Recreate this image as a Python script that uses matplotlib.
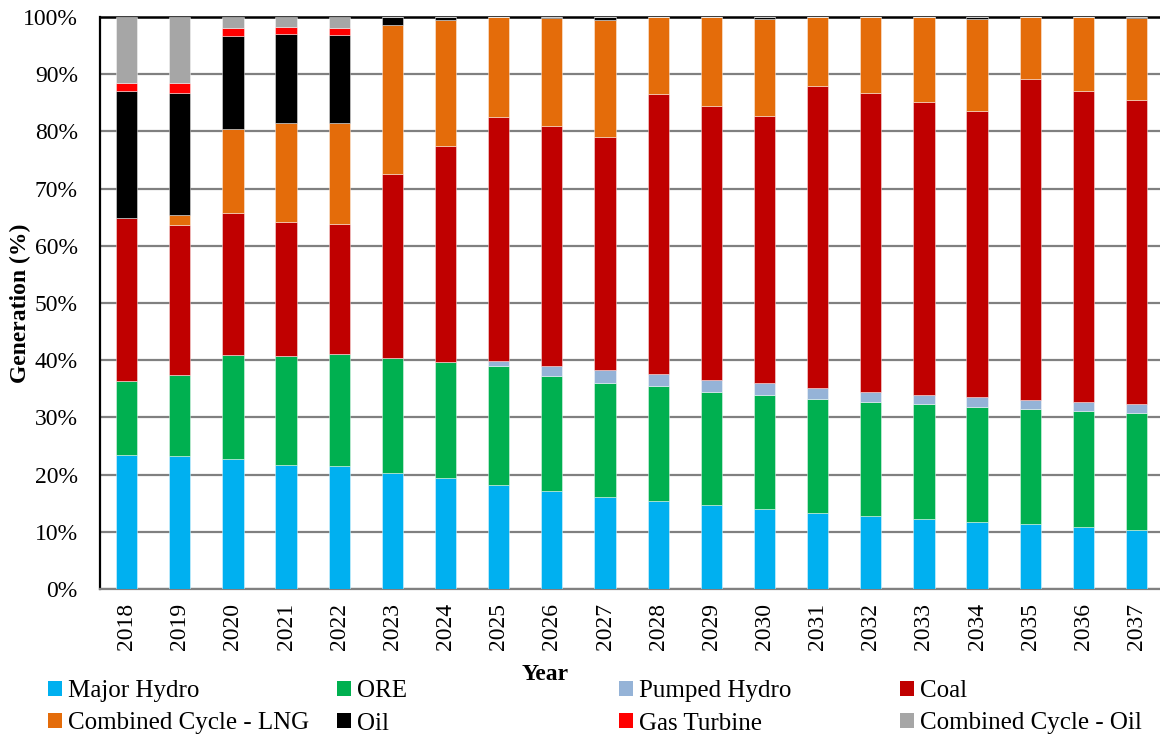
import matplotlib
matplotlib.use("Agg")
import matplotlib.pyplot as plt
from matplotlib.patches import Patch
import numpy as np

years = [str(y) for y in range(2018, 2038)]

major_hydro = [23.4, 23.3, 22.7, 21.6, 21.5, 20.3, 19.4, 18.2, 17.1, 16.1,
               15.4, 14.7, 14.0, 13.3, 12.8, 12.2, 11.7, 11.4, 10.8, 10.3]
ore_top = [36.4, 37.4, 40.9, 40.8, 41.1, 40.3, 39.6, 39.0, 37.3, 36.1,
           35.5, 34.5, 34.0, 33.3, 32.7, 32.3, 31.9, 31.5, 31.1, 30.8]
ph_top = [36.4, 37.4, 40.9, 40.8, 41.1, 40.3, 39.6, 39.9, 38.9, 38.2,
          37.6, 36.5, 36.0, 35.1, 34.4, 33.9, 33.5, 33.0, 32.7, 32.4]
coal_top = [64.9, 63.6, 65.7, 64.2, 63.8, 72.6, 77.5, 82.6, 80.9, 79.1,
            86.5, 84.5, 82.7, 88.0, 86.8, 85.1, 83.6, 89.2, 87.0, 85.5]
lng_top = [64.9, 65.3, 80.5, 81.4, 81.5, 98.6, 99.5, 100.0, 99.8, 99.5,
           100.0, 100.0, 99.7, 100.0, 100.0, 100.0, 99.7, 100.0, 100.0, 99.8]
oil_top = [87.1, 86.8, 96.7, 97.0, 96.8, 100.0, 100.0, 100.0, 100.0, 100.0,
           100.0, 100.0, 100.0, 100.0, 100.0, 100.0, 100.0, 100.0, 100.0, 100.0]
gt_top = [88.5, 88.5, 98.1, 98.3, 98.1, 100.0, 100.0, 100.0, 100.0, 100.0,
          100.0, 100.0, 100.0, 100.0, 100.0, 100.0, 100.0, 100.0, 100.0, 100.0]
total = [100.0] * 20

def diff(a, b):
    return [round(x - y, 2) for x, y in zip(a, b)]

ore = diff(ore_top, major_hydro)
pumped_hydro = diff(ph_top, ore_top)
coal = diff(coal_top, ph_top)
cc_lng = diff(lng_top, coal_top)
oil = diff(oil_top, lng_top)
gas_turbine = diff(gt_top, oil_top)
cc_oil = diff(total, gt_top)

series = [
    ("Major Hydro", major_hydro, "#00B0F0"),
    ("ORE", ore, "#00B050"),
    ("Pumped Hydro", pumped_hydro, "#95B3D7"),
    ("Coal", coal, "#C00000"),
    ("Combined Cycle - LNG", cc_lng, "#E46C0A"),
    ("Oil", oil, "#000000"),
    ("Gas Turbine", gas_turbine, "#FF0000"),
    ("Combined Cycle - Oil", cc_oil, "#A6A6A6"),
]

plt.rcParams['font.family'] = ['Liberation Serif', 'DejaVu Serif']

fig = plt.figure(figsize=(11.6, 7.38), dpi=100)
ax = fig.add_axes([100/1160, 149/738, 1060/1160, 572/738])

x = np.arange(len(years))
bottom = np.zeros(len(years))
handles = {}
for name, vals, color in series:
    v = np.array(vals)
    ax.bar(x, v, width=0.4, bottom=bottom, color=color,
           edgecolor=(1, 1, 1, 0.5), linewidth=0.6, zorder=3)
    bottom += v
    handles[name] = Patch(facecolor=color, edgecolor='none')

ax.set_xlim(-0.5, 19.44)
ax.set_ylim(0, 100)
ax.set_yticks(np.arange(0, 101, 10))
ax.set_yticklabels([f"{t}%" for t in range(0, 101, 10)])
ax.set_xticks(x)
ax.set_xticklabels(years, rotation=90)
ax.tick_params(axis='y', length=0, pad=16, labelsize=17)
ax.tick_params(axis='x', length=0, pad=10, labelsize=17)
ax.yaxis.grid(True, color='#808080', linewidth=1.6, zorder=0)
ax.set_axisbelow(True)
ax.spines['right'].set_visible(False)
ax.spines['left'].set_color('black')
ax.spines['left'].set_linewidth(1.6)
ax.spines['top'].set_color('black')
ax.spines['top'].set_linewidth(1.8)
ax.spines['bottom'].set_color('#808080')
ax.spines['bottom'].set_linewidth(1.6)

fig.text(20/1160, 1 - 303/738, "Generation (%)", rotation=90, ha='center', va='center',
         fontsize=17, fontweight='bold')
fig.text(545/1160, 1 - 674/738, "Year", ha='center', va='center',
         fontsize=17, fontweight='bold')

cols = [
    (48, ["Major Hydro", "Combined Cycle - LNG"]),
    (337, ["ORE", "Oil"]),
    (619, ["Pumped Hydro", "Gas Turbine"]),
    (900, ["Coal", "Combined Cycle - Oil"]),
]
for xpx, names in cols:
    fig.legend([handles[n] for n in names], names, loc='upper left',
               bbox_to_anchor=(xpx/1160, 1 - 680/738), frameon=False,
               fontsize=18, handlelength=0.55, handleheight=0.55,
               handletextpad=0.25, borderpad=0, borderaxespad=0,
               labelspacing=0.42)

fig.savefig("out.png", dpi=100)
